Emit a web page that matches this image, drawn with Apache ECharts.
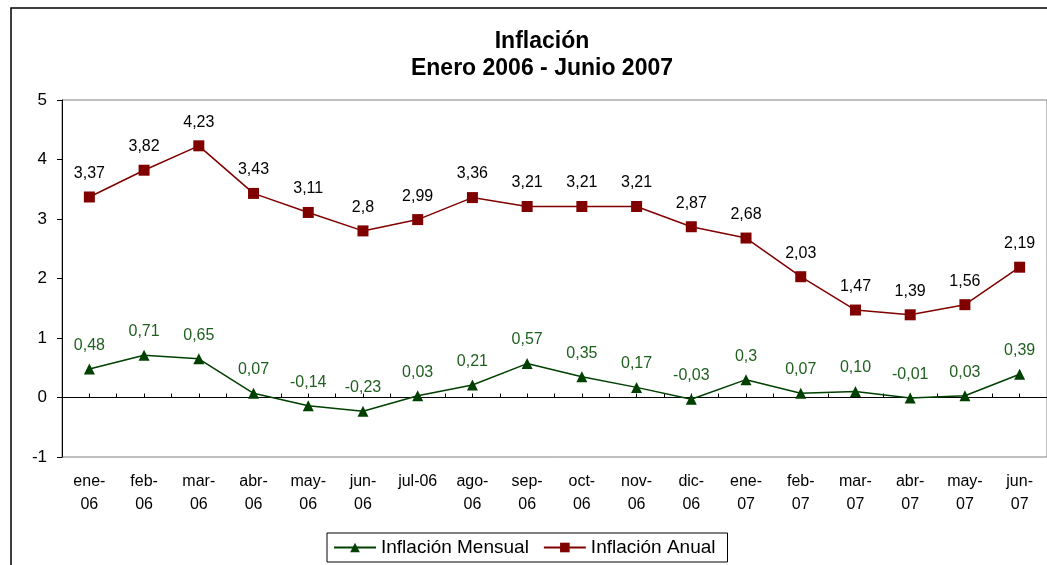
<!DOCTYPE html>
<html>
<head>
<meta charset="utf-8">
<script src="https://cdn.jsdelivr.net/npm/echarts@6/dist/echarts.min.js"></script>
<style>
  html, body { margin: 0; padding: 0; background: #fff; }
  #chart { width: 1047px; height: 565px; }
</style>
</head>
<body>
<div id="chart"></div>
<script>
// categorias (mes-año)
var meses = ['ene-\n06', 'feb-\n06', 'mar-\n06', 'abr-\n06', 'may-\n06', 'jun-\n06', 'jul-06',
    'ago-\n06', 'sep-\n06', 'oct-\n06', 'nov-\n06', 'dic-\n06', 'ene-\n07', 'feb-\n07',
    'mar-\n07', 'abr-\n07', 'may-\n07', 'jun-\n07'];

var inflacionMensual = [0.48, 0.71, 0.65, 0.07, -0.14, -0.23, 0.03, 0.21, 0.57, 0.35, 0.17,
    -0.03, 0.3, 0.07, 0.10, -0.01, 0.03, 0.39];
var etiquetasMensual = ['0,48', '0,71', '0,65', '0,07', '-0,14', '-0,23', '0,03', '0,21', '0,57',
    '0,35', '0,17', '-0,03', '0,3', '0,07', '0,10', '-0,01', '0,03', '0,39'];

var inflacionAnual = [3.37, 3.82, 4.23, 3.43, 3.11, 2.8, 2.99, 3.36, 3.21, 3.21, 3.21,
    2.87, 2.68, 2.03, 1.47, 1.39, 1.56, 2.19];
var etiquetasAnual = ['3,37', '3,82', '4,23', '3,43', '3,11', '2,8', '2,99', '3,36', '3,21',
    '3,21', '3,21', '2,87', '2,68', '2,03', '1,47', '1,39', '1,56', '2,19'];

var fuente = 'Arial, "Liberation Sans", sans-serif';

var chart = echarts.init(document.getElementById('chart'));

var option = {
    backgroundColor: '#fff',
    animation: false,
    textStyle: { fontFamily: fuente },
    title: {
        text: 'Inflación\nEnero 2006 - Junio 2007',
        left: 542,
        top: 28,
        textAlign: 'center',
        padding: 0,
        textStyle: { fontSize: 23, fontWeight: 'bold', color: '#000', lineHeight: 27, fontFamily: fuente }
    },
    legend: {
        left: 327,
        top: 533,
        padding: [5, 12, 5, 6],
        itemGap: 14,
        itemWidth: 42,
        itemHeight: 12,
        borderColor: '#000',
        borderWidth: 1,
        textStyle: { fontSize: 19, color: '#000', fontFamily: fuente },
        data: ['Inflación Mensual', 'Inflación Anual']
    },
    grid: {
        left: 62,
        top: 100,
        right: -2,
        bottom: 108,
        show: true,
        borderColor: '#808080',
        borderWidth: 1
    },
    xAxis: [
        {
            // etiquetas abajo
            type: 'category',
            data: meses,
            position: 'bottom',
            axisLine: { show: false, onZero: false },
            axisTick: { show: false },
            axisLabel: { fontSize: 16, color: '#000', lineHeight: 23, margin: 13, interval: 0, fontFamily: fuente }
        },
        {
            // eje en cero, marcas entre categorias
            type: 'category',
            data: meses,
            position: 'bottom',
            axisLine: { show: true, onZero: true, onZeroAxisIndex: 0, lineStyle: { color: '#000', width: 1 } },
            axisTick: { show: true, inside: true, length: 4, lineStyle: { color: '#000' } },
            axisLabel: { show: false }
        },
        {
            // marcas en el centro de cada categoria
            type: 'category',
            data: meses,
            position: 'bottom',
            axisLine: { show: true, onZero: true, onZeroAxisIndex: 0, lineStyle: { color: '#000', width: 1 } },
            axisTick: { show: true, inside: true, length: 4, alignWithLabel: true, lineStyle: { color: '#000' } },
            axisLabel: { show: false }
        }
    ],
    yAxis: {
        type: 'value',
        min: -1,
        max: 5,
        interval: 1,
        axisLine: { show: true, lineStyle: { color: '#000' } },
        axisTick: { show: true, length: 5, lineStyle: { color: '#000' } },
        splitLine: { show: false },
        axisLabel: { fontSize: 17, color: '#000', margin: 15, fontFamily: fuente }
    },
    graphic: [
        {
            type: 'rect',
            shape: { x: 11, y: 8, width: 1200, height: 700 },
            style: { fill: 'none', stroke: '#000', lineWidth: 1.5 },
            silent: true,
            z: 100
        }
    ],
    series: [
        {
            name: 'Inflación Mensual',
            type: 'line',
            xAxisIndex: 1,
            data: inflacionMensual,
            symbol: 'triangle',
            symbolSize: 11,
            lineStyle: { color: '#004000', width: 1.5 },
            itemStyle: { color: '#004000' },
            label: {
                show: true,
                position: 'top',
                distance: 10,
                fontSize: 16,
                color: '#1f5f1f',
                fontFamily: fuente,
                formatter: function (p) { return etiquetasMensual[p.dataIndex]; }
            }
        },
        {
            name: 'Inflación Anual',
            type: 'line',
            xAxisIndex: 1,
            data: inflacionAnual,
            symbol: 'rect',
            symbolSize: 11,
            lineStyle: { color: '#800000', width: 1.5 },
            itemStyle: { color: '#800000' },
            label: {
                show: true,
                position: 'top',
                distance: 10,
                fontSize: 16,
                color: '#000',
                fontFamily: fuente,
                formatter: function (p) { return etiquetasAnual[p.dataIndex]; }
            }
        }
    ]
};

chart.setOption(option);
</script>
</body>
</html>
